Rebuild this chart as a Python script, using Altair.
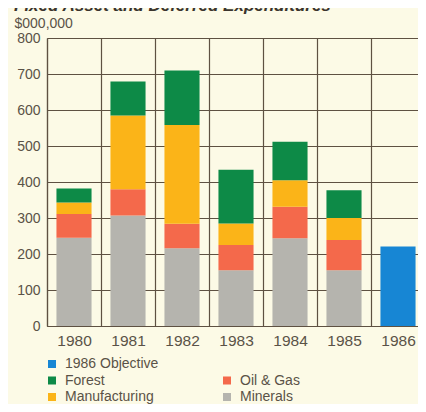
import altair as alt
import pandas as pd

years = ["1980", "1981", "1982", "1983", "1984", "1985", "1986"]
minerals = [245, 307, 216, 155, 244, 155, 0]
oil_gas = [66, 73, 68, 70, 87, 84, 0]
manufacturing = [32, 205, 274, 60, 74, 61, 0]
forest = [39, 94, 152, 149, 107, 77, 0]
objective = [0, 0, 0, 0, 0, 0, 221]

series_names = ["Minerals", "Oil & Gas", "Manufacturing", "Forest", "1986 Objective"]
series_values = [minerals, oil_gas, manufacturing, forest, objective]

# legend is filled column by column: left column first, then right column
legend_domain = ["1986 Objective", "Forest", "Manufacturing", " ", "Oil & Gas", "Minerals"]
legend_colors = ["#1786d4", "#0d8a47", "#fbb418", "transparent", "#f4694b", "#b5b4ae"]

rows = []
for i, yr in enumerate(years):
    for k, (name, vals) in enumerate(zip(series_names, series_values)):
        if vals[i] > 0:
            rows.append({"year": yr, "series": name, "value": vals[i], "order": k})
df = pd.DataFrame(rows)

text_color = "#5a5247"
grid_color = "#5e5142"

chart = alt.Chart(df).mark_bar(width=alt.RelativeBandSize(0.65)).encode(
    x=alt.X(
        "year:N",
        sort=years,
        scale=alt.Scale(paddingInner=0, paddingOuter=0),
        axis=alt.Axis(
            title=None, labelAngle=0, grid=True, tickBand="extent", ticks=False,
            labelPadding=7, labelFontSize=15.5, labelColor=text_color,
            gridColor=grid_color, gridWidth=1.2, domainColor=grid_color, domainWidth=1.2,
        ),
    ),
    y=alt.Y(
        "value:Q",
        stack="zero",
        scale=alt.Scale(domain=[0, 800], nice=False),
        axis=alt.Axis(
            values=list(range(0, 801, 100)), title="$000,000", titleAngle=0,
            titleAlign="left", titleBaseline="middle", titleX=-33, titleY=-15,
            titleFontWeight="normal", titleFontSize=14, titleColor=text_color,
            ticks=False, labelPadding=7, labelFontSize=14, labelColor=text_color,
            gridColor=grid_color, gridWidth=1.2, domainColor=grid_color, domainWidth=1.2,
        ),
    ),
    color=alt.Color(
        "series:N",
        scale=alt.Scale(domain=legend_domain, range=legend_colors),
        legend=alt.Legend(
            title=None, orient="none", legendX=-2, legendY=319, columns=2,
            columnPadding=61, rowPadding=2.5, symbolType="square", symbolSize=64,
            labelFontSize=14, labelColor=text_color, symbolStrokeWidth=0,
            padding=0, labelOffset=6,
        ),
    ),
    order=alt.Order("order:Q"),
).properties(
    width=378,
    height=288,
    autosize=alt.AutoSizeParams(type="none"),
    padding={"left": 39, "top": 30, "right": -7, "bottom": 78},
    title=alt.Title(
        "Fixed Asset and Deferred Expenditures", anchor="start", fontSize=17,
        fontWeight="bold", fontStyle="italic", color="#3a342d", dy=3,
    ),
).configure(
    background="#fcfae6", font="Liberation Sans"
).configure_view(stroke=None)

chart.save("out.html", embed_options={"renderer": "svg", "actions": False})
